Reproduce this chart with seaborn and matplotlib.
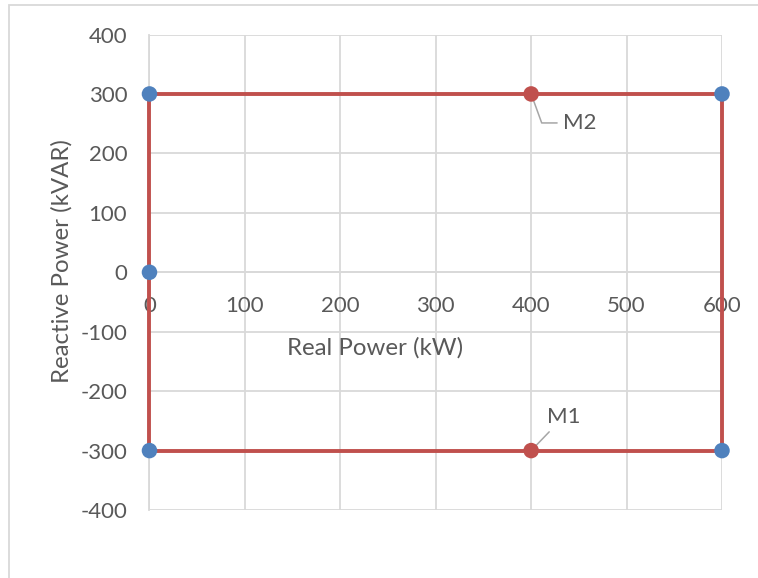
import matplotlib
matplotlib.use("Agg")
import matplotlib.pyplot as plt
import seaborn as sns
import pandas as pd
from matplotlib.patches import Rectangle

# Operating boundary (closed rectangle) in kW / kVAR
boundary_p = [0, 600, 600, 0, 0]
boundary_q = [300, 300, -300, -300, 300]

# Corner / origin points
corner_p = [0, 600, 0, 0, 600]
corner_q = [300, 300, 0, -300, -300]

# Marked operating points
mark_names = ["M1", "M2"]
mark_p = [400, 400]
mark_q = [-300, 300]

x_ticks = [0, 100, 200, 300, 400, 500, 600]
y_ticks = [-400, -300, -200, -100, 0, 100, 200, 300, 400]

sns.set_style("white")
plt.rcParams["font.family"] = ["Lato", "DejaVu Sans"]
plt.rcParams["axes.unicode_minus"] = False

RED = "#c0504d"
BLUE = "#4f81bd"
GRID = "#d9d9d9"
TEXT = "#595959"

fig = plt.figure(figsize=(7.58, 5.78), dpi=100)
ax = fig.add_axes([0.1972, 0.1176, 0.9525 - 0.1972, 0.9403 - 0.1176])

# outer chart frame
fig.patches.append(Rectangle((9 / 758, -0.05), 1.2, 1 - 5 / 578 + 0.05,
                             transform=fig.transFigure, fill=False,
                             edgecolor=GRID, linewidth=1.3, zorder=0))

boundary = pd.DataFrame({"p": boundary_p, "q": boundary_q})
corners = pd.DataFrame({"p": corner_p, "q": corner_q})
marks = pd.DataFrame({"name": mark_names, "p": mark_p, "q": mark_q})

sns.lineplot(data=boundary, x="p", y="q", sort=False, estimator=None,
             color=RED, linewidth=2.8, ax=ax, zorder=3, clip_on=False)
sns.scatterplot(data=marks, x="p", y="q", color=RED, s=125,
                edgecolor="none", ax=ax, zorder=4, clip_on=False)
sns.scatterplot(data=corners, x="p", y="q", color=BLUE, s=125,
                edgecolor="none", ax=ax, zorder=5, clip_on=False)

ax.set_xlim(0, 600)
ax.set_ylim(-400, 400)
ax.set_xticks(x_ticks)
ax.set_yticks(y_ticks)
ax.grid(True, color=GRID, linewidth=1.3)
ax.set_axisbelow(True)

for side in ["top", "right"]:
    ax.spines[side].set_visible(False)
ax.spines["left"].set_color(GRID)
ax.spines["left"].set_linewidth(1.3)
ax.spines["bottom"].set_position(("data", 0))
ax.spines["bottom"].set_color(GRID)
ax.spines["bottom"].set_linewidth(1.3)

ax.tick_params(axis="both", length=0, labelsize=16, labelcolor=TEXT)
ax.tick_params(axis="x", pad=17)
ax.tick_params(axis="y", pad=16)
for lbl in ax.get_xticklabels():
    lbl.set_zorder(2)

ax.set_xlabel("")
ax.set_ylabel("")
fig.text(375 / 758, 1 - 348 / 578, "Real Power (kW)", ha="center",
         va="center", fontsize=17.3, color=TEXT)
fig.text(62 / 758, 1 - 261 / 578, "Reactive Power (kVAR)", ha="center",
         va="center", rotation=90, fontsize=17.3, color=TEXT)

# labels with leader lines
LEAD = "#a6a6a6"
offsets = {"M1": (16, 24), "M2": (32, -29)}
for name, p, q in zip(mark_names, mark_p, mark_q):
    dx, dy = offsets[name]
    if name == "M2":
        ax.annotate(name, xy=(p, q), xytext=(dx, dy), textcoords="offset pixels",
                    fontsize=16, color=TEXT, ha="left", va="center",
                    arrowprops=dict(arrowstyle="-", color=LEAD, lw=1.1,
                                    connectionstyle="angle,angleA=0,angleB=-70,rad=0",
                                    shrinkA=2, shrinkB=0))
    else:
        ax.annotate(name, xy=(p, q), xytext=(dx, dy), textcoords="offset pixels",
                    fontsize=16, color=TEXT, ha="left", va="bottom",
                    arrowprops=dict(arrowstyle="-", color=LEAD, lw=1.1,
                                    shrinkA=2, shrinkB=0))

fig.savefig("out.png", dpi=100)
